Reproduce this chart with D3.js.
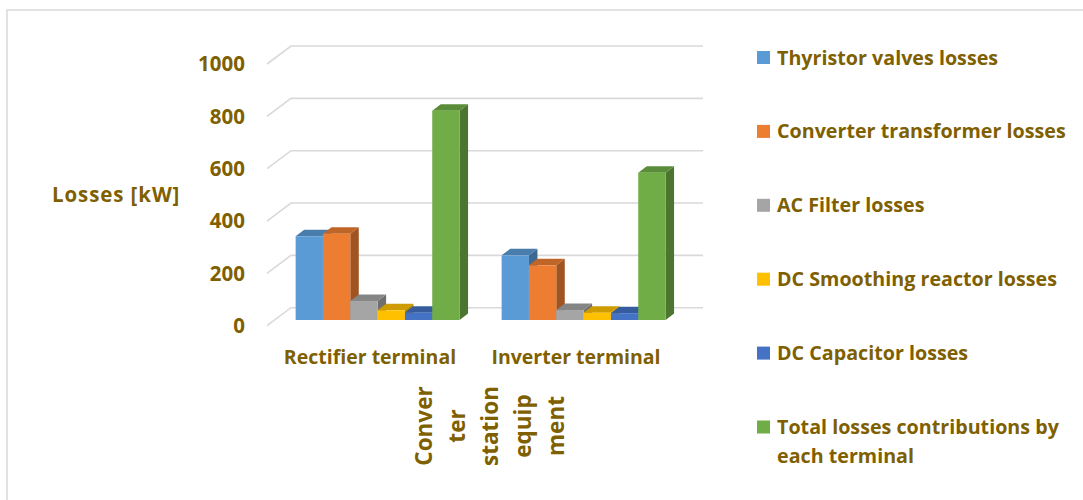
<!DOCTYPE html>
<html>
<head>
<meta charset="utf-8">
<script src="https://cdn.jsdelivr.net/npm/d3@7"></script>
<style>
  body { margin: 0; background: #fff; }
  svg text { font-family: "Open Sans", Lato, sans-serif; font-weight: bold; fill: #7f6000; }
</style>
</head>
<body>
<svg width="1083" height="500"></svg>
<script>
// chart data
var categories = ['Rectifier terminal', 'Inverter terminal'];
var seriesNames = ['Thyristor valves losses', 'Converter transformer losses', 'AC Filter losses',
                   'DC Smoothing reactor losses', 'DC Capacitor losses', 'Total losses contributions by each terminal'];
var thyristor   = [320, 247];
var transformer = [330, 209];
var acFilter    = [73, 38];
var dcReactor   = [37, 28];
var dcCapacitor = [28, 26];
var total       = [800, 563];
var yTicks = [0, 200, 400, 600, 800, 1000];
var xTitleLines = ['Conver', 'ter', 'station', 'equip', 'ment'];

var colors = ['#5b9bd5', '#ed7d31', '#a5a5a5', '#ffc000', '#4472c4', '#70ad47'];
var seriesValues = [thyristor, transformer, acFilter, dcReactor, dcCapacitor, total];

var svg = d3.select('svg');

// frame lines (top & left only visible)
svg.append('path').attr('d', 'M7,500 V10 H1083')
    .attr('fill', 'none').attr('stroke', '#d9d9d9').attr('stroke-width', 1.5);

// front plane value scale, depth offsets
var y = d3.scaleLinear().domain([0, 1000]).range([325.7, 64]);
var wallDx = 24, wallDy = -18;      // back wall shift
var barDx = 7.6, barDy = -5.7;      // bars sit a bit behind the front edge
var depthDx = 8.5, depthDy = -6.5;  // bar thickness

var x0 = d3.scaleBand().domain(categories).range([267, 679]);
var x1 = d3.scaleBand().domain(d3.range(seriesNames.length))
    .range([0, x0.bandwidth()]).paddingOuter(0.77);

// gridlines: back wall + left floor diagonal
var grid = svg.append('g').attr('stroke', '#d9d9d9').attr('stroke-width', 1.6).attr('fill', 'none');
yTicks.forEach(function(t) {
    var yy = y(t);
    grid.append('path')
        .attr('d', 'M267,' + yy + ' L' + (267 + wallDx) + ',' + (yy + wallDy) + ' H703');
});

// tick labels
svg.append('g').selectAll('text').data(yTicks).enter().append('text')
    .attr('x', 245).attr('y', function(d) { return y(d); })
    .attr('dy', '0.36em').attr('text-anchor', 'end')
    .style('font-size', '20.5px')
    .text(function(d) { return d; });

// bars, drawn left to right so later faces cover earlier sides
var bars = [];
categories.forEach(function(c, ci) {
    seriesValues.forEach(function(vals, si) {
        bars.push({ cat: c, s: si, v: vals[ci] });
    });
});

var barG = svg.append('g');
bars.forEach(function(d) {
    var xl = x0(d.cat) + x1(d.s) + barDx;
    var w = x1.bandwidth();
    var yb = y(0) + barDy;
    var yt = y(d.v) + barDy;
    var base = d3.color(colors[d.s]);
    var g = barG.append('g');
    // side face
    g.append('path')
        .attr('d', 'M' + (xl + w) + ',' + yb + ' L' + (xl + w + depthDx) + ',' + (yb + depthDy) +
            ' L' + (xl + w + depthDx) + ',' + (yt + depthDy) + ' L' + (xl + w) + ',' + yt + 'Z')
        .attr('fill', base.darker(1.1));
    // top face
    g.append('path')
        .attr('d', 'M' + xl + ',' + yt + ' L' + (xl + depthDx) + ',' + (yt + depthDy) +
            ' L' + (xl + w + depthDx) + ',' + (yt + depthDy) + ' L' + (xl + w) + ',' + yt + 'Z')
        .attr('fill', base.darker(0.6));
    // front face
    g.append('rect')
        .attr('x', xl).attr('y', yt).attr('width', w).attr('height', yb - yt)
        .attr('fill', base);
});

// category labels
svg.append('g').selectAll('text').data(categories).enter().append('text')
    .attr('x', function(d) { return x0(d) + x0.bandwidth() / 2; })
    .attr('y', 364)
    .attr('text-anchor', 'middle')
    .style('font-size', '19.5px')
    .text(function(d) { return d; });

// horizontal axis title, rotated and broken into pieces
svg.append('g').selectAll('text').data(xTitleLines).enter().append('text')
    .attr('transform', function(d, i) { return 'translate(' + (423 + i * 33) + ',426) rotate(-90)'; })
    .attr('text-anchor', 'middle')
    .attr('dominant-baseline', 'central')
    .style('font-size', '22.5px')
    .text(function(d) { return d; });

// vertical axis title
svg.append('text').attr('x', 52).attr('y', 202)
    .style('font-size', '20.5px')
    .style('letter-spacing', '0.9px')
    .text('Losses [kW]');

// legend
var legend = svg.append('g').selectAll('g').data(seriesNames).enter().append('g')
    .attr('transform', function(d, i) { return 'translate(757,' + (57.5 + i * 73.9) + ')'; });
legend.append('rect')
    .attr('x', 0).attr('y', -6.5).attr('width', 13).attr('height', 13)
    .attr('fill', function(d, i) { return colors[i]; });
legend.append('text')
    .attr('x', 20)
    .style('font-size', '19.7px')
    .each(function(d) {
        var t = d3.select(this);
        var parts = d === 'Total losses contributions by each terminal'
            ? ['Total losses contributions by', 'each terminal'] : [d];
        parts.forEach(function(p, k) {
            t.append('tspan').attr('x', 20).attr('dy', k === 0 ? '0.36em' : '29px').text(p);
        });
    });
</script>
</body>
</html>
